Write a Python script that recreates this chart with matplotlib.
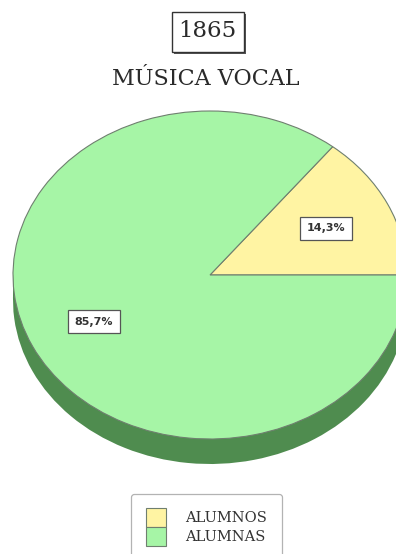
import matplotlib
matplotlib.use("Agg")
import matplotlib.pyplot as plt
from matplotlib.patches import Rectangle

# Data
categories = ["ALUMNOS", "ALUMNAS"]
values = [14.3, 85.7]
year = "1865"
subject = "MÚSICA VOCAL"

# Styles
top_colors = ["#fff4a3", "#a6f5a6"]
side_color = "#4f8c4f"
edge_color = "#6f7f6f"
text_color = "#2a2a2a"

W, H, DPI = 396, 554, 100
fig = plt.figure(figsize=(W / DPI, H / DPI), dpi=DPI)
fig.patch.set_facecolor("white")

# Overlay in pixel coordinates for the headings
ov = fig.add_axes([0, 0, 1, 1])
ov.set_xlim(0, W)
ov.set_ylim(H, 0)
ov.axis("off")

# Pie geometry in pixels (squashed ellipse with visible depth)
cx, cy = 210, 275          # centre of top face (pixels from top-left)
rx, ry = 197, 164          # horizontal / vertical radius of top face
depth_px = 25
d = depth_px / ry

xl = (-1.1, 1.1)
yl = (-1.35, 1.1)
left_px = cx + xl[0] * rx
width_px = (xl[1] - xl[0]) * rx
top_px = cy - yl[1] * ry
height_px = (yl[1] - yl[0]) * ry
ax = fig.add_axes([left_px / W, 1 - (top_px + height_px) / H,
                   width_px / W, height_px / H])

# Side of the cylinder
ax.pie(values, colors=[side_color, side_color], center=(0, -d),
       startangle=0, counterclock=True,
       wedgeprops=dict(edgecolor=side_color, linewidth=0))
ax.add_patch(Rectangle((-1, -d), 2, d, facecolor=side_color,
                       edgecolor="none", zorder=0.5))

# Top face
wedges, texts, autotexts = ax.pie(
    values, colors=top_colors, startangle=0, counterclock=True,
    autopct=lambda p: f"{p:.1f}%".replace(".", ","),
    pctdistance=0.655,
    wedgeprops=dict(edgecolor=edge_color, linewidth=0.8),
    textprops=dict(fontsize=8, fontweight="bold", color="#333333",
                   family="DejaVu Sans"))
for t in autotexts:
    t.set_bbox(dict(boxstyle="square,pad=0.6", facecolor="white",
                    edgecolor="#555555", linewidth=0.9))

ax.set_aspect("auto")
ax.set_xlim(*xl)
ax.set_ylim(*yl)
ax.axis("off")

# Year box with a small drop shadow
ov.add_patch(Rectangle((174, 14), 72, 40, facecolor="#555555",
                       edgecolor="none"))
ov.add_patch(Rectangle((172, 12), 72, 40, facecolor="white",
                       edgecolor="#333333", linewidth=1.0))
ov.text(207, 31, year, ha="center", va="center", fontsize=16.5,
        family="DejaVu Serif", color=text_color)
ov.text(206, 85, subject, ha="center", va="baseline", fontsize=16,
        family="DejaVu Serif", color=text_color)

# Legend
leg = fig.legend(wedges, categories, loc="center",
                 bbox_to_anchor=(206.5 / W, 1 - 527 / H),
                 prop=dict(family="DejaVu Serif", size=10.5),
                 frameon=True, fancybox=True, edgecolor="#a0a0a0",
                 handlelength=1.4, handleheight=1.6, labelspacing=0.0,
                 handletextpad=1.3, borderpad=1.0, borderaxespad=0)
leg.get_frame().set_linewidth(0.9)
for t in leg.get_texts():
    t.set_color("#333333")

fig.savefig("out.png", dpi=DPI)
